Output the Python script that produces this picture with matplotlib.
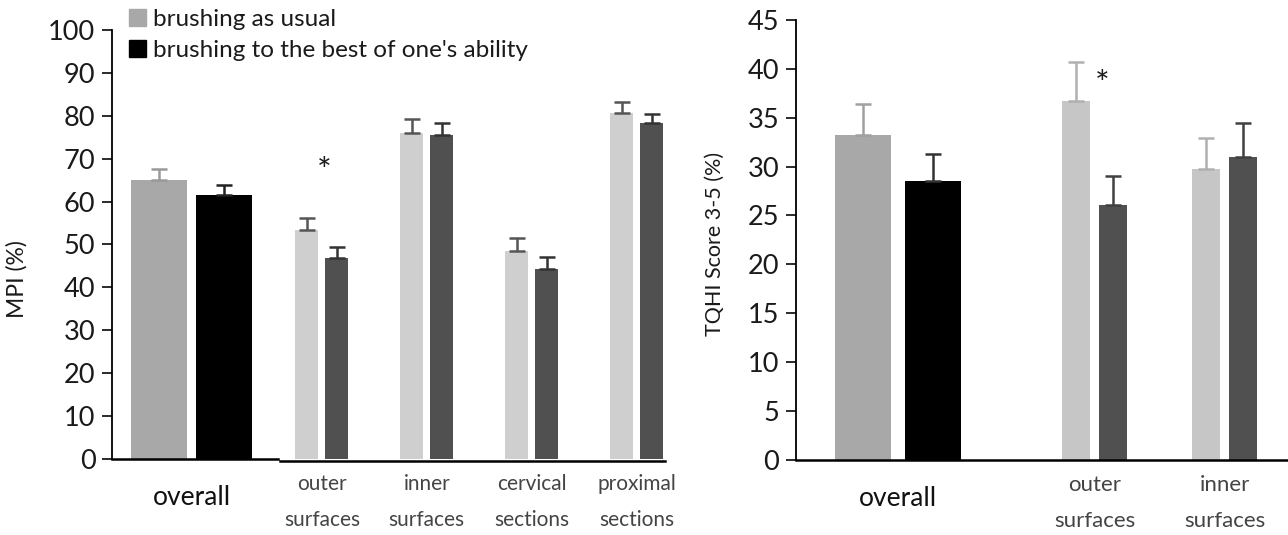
# MPI and TQHI: brushing as usual vs. brushing to the best of one's ability
import matplotlib.pyplot as plt
from matplotlib.patches import Patch
from matplotlib.transforms import offset_copy

plt.rcParams['font.family'] = ['Lato', 'DejaVu Sans']

# left panel: MPI (%)
mpi_groups = ["outer\nsurfaces", "inner\nsurfaces", "cervical\nsections", "proximal\nsections"]
mpi_overall = [65.0, 61.5]
mpi_overall_err = [2.6, 2.4]
mpi_usual = [53.3, 76.1, 48.5, 80.7]
mpi_usual_err = [2.9, 3.1, 3.1, 2.6]
mpi_best = [46.9, 75.6, 44.2, 78.3]
mpi_best_err = [2.5, 2.7, 2.9, 2.2]

# right panel: TQHI score 3-5 (%)
tq_groups = ["outer\nsurfaces", "inner\nsurfaces"]
tq_overall = [33.2, 28.5]
tq_overall_err = [3.2, 2.8]
tq_usual = [36.7, 29.7]
tq_usual_err = [3.95, 3.2]
tq_best = [26.1, 31.0]
tq_best_err = [2.9, 3.5]

c_overall = "#a8a8a8"
c_black = "#000000"
c_light = "#cfcfcf"
c_dark = "#505050"
txt = "#1a1a1a"

fig = plt.figure(figsize=(12.88, 5.35), dpi=100)
ax1 = fig.add_axes([0.087, 0.142, 0.429, 0.802])
ax2 = fig.add_axes([0.618, 0.140, 0.382, 0.823])


def style(ax):
    for s in ["top", "right"]:
        ax.spines[s].set_visible(False)
    ax.spines["left"].set_linewidth(1.3)
    ax.spines["bottom"].set_linewidth(1.8)
    ax.tick_params(axis="y", labelsize=19.5, length=7, width=1.3, colors=txt, pad=5)
    ax.tick_params(axis="x", which="both", length=0)


def bars(ax, x, h, e, w, color, ecolor):
    ax.bar(x, h, w, color=color, zorder=2)
    ax.errorbar(x, h, yerr=[[0] * len(h), e], fmt="none", ecolor=ecolor,
                elinewidth=1.8, capsize=5.5, capthick=1.8, zorder=3)


def xlabels(ax, ov, pos, groups, size):
    ax.set_xticks([ov])
    ax.set_xticklabels(["overall"], fontsize=19, color="#111111")
    ax.set_xticks(pos, minor=True)
    ax.set_xticklabels(groups, minor=True, fontsize=size, color="#444444",
                       linespacing=1.95)
    ax.tick_params(axis="x", which="major", pad=19)
    ax.tick_params(axis="x", which="minor", pad=11)


# ---- left ----
pos = [2, 3, 4, 5]
ov = 0.757
bars(ax1, [ov - 0.31], mpi_overall[:1], mpi_overall_err[:1], 0.53, c_overall, "#999999")
bars(ax1, [ov + 0.31], mpi_overall[1:], mpi_overall_err[1:], 0.53, c_black, "#222222")
bars(ax1, [p - 0.143 for p in pos], mpi_usual, mpi_usual_err, 0.22, c_light, "#555555")
bars(ax1, [p + 0.143 for p in pos], mpi_best, mpi_best_err, 0.22, c_dark, "#333333")
ax1.set_xlim(0, 5.267)
ax1.set_ylim(0, 100)
ax1.set_yticks(range(0, 101, 10))
style(ax1)
# the baseline is drawn in two pieces in the original
ax1.spines["bottom"].set_bounds(0, 1.58)
ax1.plot([1.6, 5.267], [0, 0], color="black", lw=1.8, clip_on=False, zorder=4,
         transform=offset_copy(ax1.transData, fig=fig, y=-1.5, units="points"))
xlabels(ax1, ov, pos, mpi_groups, 15)
ax1.set_ylabel("MPI (%)", fontsize=16.5, color=txt)
ax1.yaxis.set_label_coords(-0.152, 0.42)
ax1.text(pos[0] + 0.02, 67.0, "*", ha="center", va="center", fontsize=25, color=txt)

handles = [Patch(color=c_overall), Patch(color=c_black)]
ax1.legend(handles, ["brushing as usual", "brushing to the best of one's ability"],
           loc="upper left", bbox_to_anchor=(0.03, 1.05), frameon=False,
           borderpad=0, borderaxespad=0,
           fontsize=17.5, handlelength=0.7, handleheight=0.7, handletextpad=0.3,
           labelspacing=0.45, labelcolor=txt)

# ---- right ----
pos2 = [2, 3]
ov2 = 0.488
bars(ax2, [ov2 - 0.267], tq_overall[:1], tq_overall_err[:1], 0.43, c_overall, "#a0a0a0")
bars(ax2, [ov2 + 0.267], tq_overall[1:], tq_overall_err[1:], 0.43, c_black, "#333333")
bars(ax2, [p - 0.142 for p in pos2], tq_usual, tq_usual_err, 0.215, "#c6c6c6", "#b0b0b0")
bars(ax2, [p + 0.142 for p in pos2], tq_best, tq_best_err, 0.215, c_dark, "#404040")
ax2.set_xlim(-0.296, 3.488)
ax2.set_ylim(0, 45)
ax2.set_yticks(range(0, 46, 5))
style(ax2)
xlabels(ax2, ov2, pos2, tq_groups, 16)
ax2.set_ylabel("TQHI Score 3-5 (%)", fontsize=15.5, color=txt)
ax2.yaxis.set_label_coords(-0.145, 0.49)
ax2.text(pos2[0] + 0.06, 38.3, "*", ha="center", va="center", fontsize=25, color=txt)

fig.savefig("out.png", dpi=100, facecolor="white")
